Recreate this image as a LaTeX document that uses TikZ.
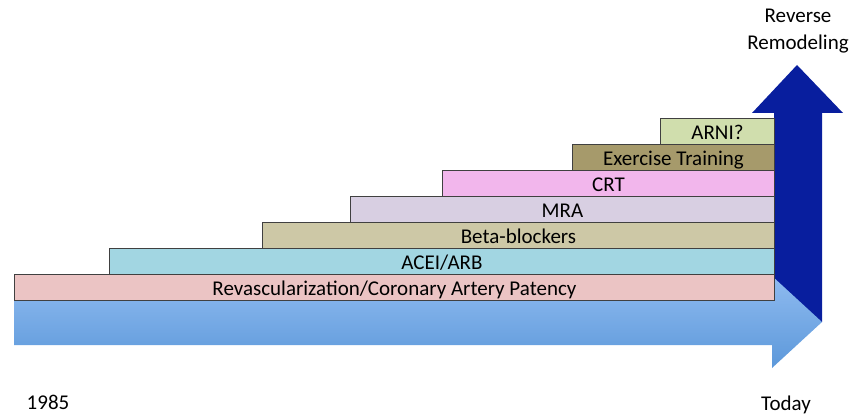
\documentclass[tikz,border=0pt]{standalone}
\usepackage{fontspec}
\setmainfont{Carlito}
\usetikzlibrary{calc}

\definecolor{navyarrow}{RGB}{8,30,158}
\definecolor{skytop}{RGB}{143,187,240}
\definecolor{skybot}{RGB}{92,152,218}
\definecolor{revasccol}{RGB}{235,196,196}
\definecolor{aceicol}{RGB}{162,214,226}
\definecolor{betacol}{RGB}{205,200,166}
\definecolor{mracol}{RGB}{216,207,226}
\definecolor{crtcol}{RGB}{242,182,236}
\definecolor{exercol}{RGB}{166,154,107}
\definecolor{arnicol}{RGB}{208,222,173}

\begin{document}
\begin{tikzpicture}[x=1pt, y=-1pt, %pixel units, y runs down
  bar/.style={draw=black!75, line width=0.9pt, anchor=north west, inner sep=0pt,
    minimum height=26pt, text height=16pt, text depth=0pt, font=\fontsize{21}{26}\selectfont},
  lbl/.style={font=\fontsize{21}{27}\selectfont, inner sep=0pt}]
\useasboundingbox (0,0) rectangle (853,417);
%up arrow behind everything
\fill[navyarrow] (774,322)--(774,113)--(752,113)--(797,65)--(843,113)--(822,113)--(822,322)--cycle;
%time arrow
\shade[top color=skytop, bottom color=skybot] (14,300)--(772,300)--(772,276)--(822,322)--(772,368)--(772,345)--(14,345)--cycle;
%the steps, right ends all at 774
\node[bar, fill=revasccol, minimum width=760pt] (revasc) at (14,274) {Revascularization/Coronary Artery Patency};
\node[bar, fill=aceicol, minimum width=665pt] (acei) at (109,248) {ACEI/ARB};
\node[bar, fill=betacol, minimum width=512pt] (beta) at (262,222) {Beta-blockers};
\node[bar, fill=mracol, minimum width=424pt] (mra) at (350,196) {MRA};
\node[bar, fill=crtcol, minimum width=332pt] (crt) at (442,170) {CRT};
\node[bar, fill=exercol, minimum width=202pt] (exer) at (572,144) {Exercise Training};
\node[bar, fill=arnicol, minimum width=114pt] (arni) at (660,118) {ARNI?};
%labels
\node[lbl, align=center] (remod) at (798,31) {Reverse\\Remodeling};
\node[lbl] (start) at (48,402) {1985};
\node[lbl] (today) at (786,405) {Today};
\end{tikzpicture}
\end{document}
